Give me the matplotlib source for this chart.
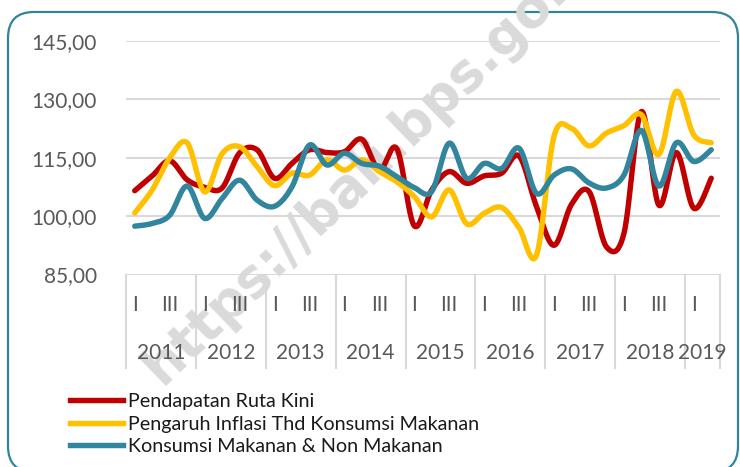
import numpy as np
import matplotlib
matplotlib.use("Agg")
import matplotlib.pyplot as plt
from matplotlib.patches import FancyBboxPatch
from matplotlib.lines import Line2D

plt.rcParams['font.family'] = ['Lato', 'DejaVu Sans']

years = ["2011", "2012", "2013", "2014", "2015", "2016", "2017", "2018", "2019"]
quarters_per_year = [4, 4, 4, 4, 4, 4, 4, 4, 2]
quarter_labels = ["I", "", "III", ""]

pendapatan = [106.5, 110.3, 114.2, 109.3, 107.4, 107.2, 116.2, 117.0,
              109.7, 113.5, 117.0, 116.3, 116.5, 119.7, 111.8, 117.3,
              97.5, 106.7, 111.4, 108.4, 110.3, 111.0, 115.4, 102.4,
              92.5, 103.0, 106.3, 92.1, 95.5, 126.8, 102.8, 116.3,
              102.0, 109.7]
inflasi = [100.8, 106.7, 114.9, 118.8, 106.2, 116.0, 117.8, 112.7,
           107.8, 111.0, 110.5, 114.4, 111.8, 114.4, 111.4, 108.8,
           105.0, 99.8, 106.7, 98.0, 100.7, 102.2, 97.0, 90.0,
           120.5, 122.5, 118.0, 121.3, 123.2, 126.0, 115.8, 132.0,
           120.8, 118.8]
konsumsi = [97.4, 98.1, 100.2, 107.7, 99.4, 104.5, 109.2, 104.1,
            102.5, 107.5, 118.2, 113.1, 116.1, 113.5, 112.8, 110.1,
            107.3, 106.3, 118.7, 109.7, 113.5, 112.2, 117.4, 105.8,
            110.5, 112.1, 108.5, 107.2, 110.5, 122.0, 107.7, 118.8,
            114.0, 117.0]
series_names = ["Pendapatan Ruta Kini",
                "Pengaruh Inflasi Thd Konsumsi Makanan",
                "Konsumsi Makanan & Non Makanan"]
series_colors = ["#C00000", "#FFC000", "#31859C"]
yticks = [85, 100, 115, 130, 145]
ytick_labels = ["85,00", "100,00", "115,00", "130,00", "145,00"]


def smooth(xs, ys, n=24):
    """Excel-like smoothed line (Catmull-Rom Bezier through the points)."""
    P = np.column_stack([xs, ys]).astype(float)
    P = np.vstack([P[0], P, P[-1]])
    out = []
    t = np.linspace(0, 1, n, endpoint=False)
    for i in range(1, len(P) - 2):
        p0, p1, p2, p3 = P[i - 1], P[i], P[i + 1], P[i + 2]
        c1 = p1 + (p2 - p0) / 6.0
        c2 = p2 - (p3 - p1) / 6.0
        seg = ((1 - t) ** 3)[:, None] * p1 + (3 * (1 - t) ** 2 * t)[:, None] * c1 \
            + (3 * (1 - t) * t ** 2)[:, None] * c2 + (t ** 3)[:, None] * p2
        out.append(seg)
    out.append(P[-2][None, :])
    out = np.vstack(out)
    return out[:, 0], out[:, 1]


W, H = 740, 467
fig = plt.figure(figsize=(W / 100, H / 100), dpi=100)
fig.patch.set_facecolor("white")

# rounded border
border = FancyBboxPatch((8 / W, 1 - 472 / H), (738 - 8) / W, (472 - 12) / H,
                        boxstyle="round,pad=0,rounding_size=0.035",
                        transform=fig.transFigure, facecolor="none",
                        edgecolor="#31849B", linewidth=1.6, zorder=-5,
                        mutation_aspect=W / H)
fig.patches.append(border)

# watermark
fig.text(162 / W, 1 - 386 / H, "https://bali.bps.go.id", rotation=44,
         rotation_mode="anchor", ha="left", va="baseline",
         fontsize=38, fontweight="bold", color="#dadada",
         family=["DejaVu Sans"], zorder=-2)

ax_left, ax_right = 126, 720
ax_top, ax_bot = 40.7, 274.5
ax = fig.add_axes([ax_left / W, 1 - ax_bot / H, (ax_right - ax_left) / W,
                   (ax_bot - ax_top) / H])
ax.patch.set_alpha(0)

n = len(pendapatan)
x = np.arange(n)
for vals, c in zip([pendapatan, inflasi, konsumsi], series_colors):
    sx, sy = smooth(x, vals)
    ax.plot(sx, sy, color=c, lw=3.9, solid_capstyle="round", zorder=3)

ax.set_xlim(-0.5, n - 0.5)
ax.set_ylim(85, 145)
ax.set_yticks(yticks)
ax.set_yticklabels(ytick_labels)
ax.tick_params(axis="y", length=0, pad=21, labelsize=15, labelcolor="#595959")
ax.set_xticks([])
for s in ax.spines.values():
    s.set_visible(False)
for yv in yticks:
    ax.axhline(yv, color="#d9d9d9", lw=1.5, zorder=1)

# multi-level category axis
tr = ax.get_xaxis_transform()
grid_c = "#d9d9d9"
depth = -(368 - ax_bot) / (ax_bot - ax_top)
qy = -(305 - ax_bot) / (ax_bot - ax_top)
yy = -(353 - ax_bot) / (ax_bot - ax_top)
start = 0
bounds = [-0.5]
for yr, nq in zip(years, quarters_per_year):
    for q in range(nq):
        lab = quarter_labels[q]
        if lab:
            ax.text(start + q, qy, lab, transform=tr, ha="center", va="center",
                    fontsize=15, color="#595959")
    ax.text(start + (nq - 1) / 2, yy, yr, transform=tr, ha="center",
            va="center", fontsize=15, color="#595959")
    start += nq
    bounds.append(start - 0.5)
for b in bounds:
    ax.plot([b, b], [0, depth], transform=tr, color=grid_c, lw=1.5,
            clip_on=False)

# legend
handles = [Line2D([0], [0], color=c, lw=3.9) for c in series_colors]
leg = ax.legend(handles, series_names, loc="upper left",
                bbox_to_anchor=(70 / W, 1 - 393 / H),
                bbox_transform=fig.transFigure, frameon=False,
                fontsize=14.2, handlelength=2.7, handletextpad=0.25,
                labelspacing=0.28, borderpad=0, borderaxespad=0)
for t in leg.get_texts():
    t.set_color("#1a1a1a")

fig.savefig("out.png", dpi=100)
